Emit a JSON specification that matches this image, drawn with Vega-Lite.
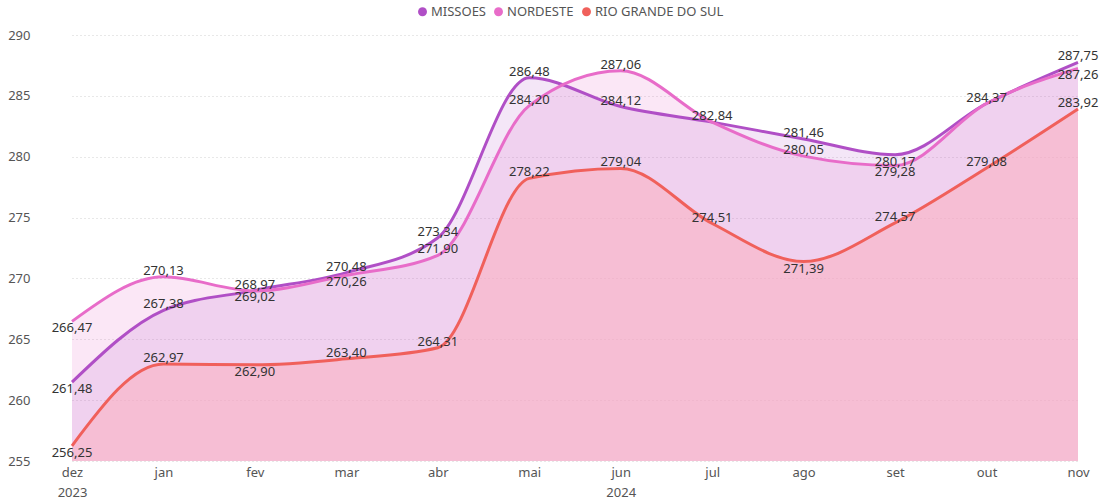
{
  "$schema": "https://vega.github.io/schema/vega-lite/v6.json",
  "width": 1064,
  "height": 426,
  "autosize": {"type": "none"},
  "padding": {"left": 36, "top": 35, "right": 2, "bottom": 40},
  "background": "white",
  "config": {
    "locale": {"number": {"decimal": ",", "thousands": ".", "grouping": [3], "currency": ["R$", ""]}},
    "view": {"stroke": null},
    "font": "Noto Sans"
  },
  "data": {"values": [
    {"month": "dez", "series": "MISSOES", "value": 261.48},
    {"month": "jan", "series": "MISSOES", "value": 267.38},
    {"month": "fev", "series": "MISSOES", "value": 269.02},
    {"month": "mar", "series": "MISSOES", "value": 270.48},
    {"month": "abr", "series": "MISSOES", "value": 273.34},
    {"month": "mai", "series": "MISSOES", "value": 286.48},
    {"month": "jun", "series": "MISSOES", "value": 284.12},
    {"month": "jul", "series": "MISSOES", "value": 282.84},
    {"month": "ago", "series": "MISSOES", "value": 281.46},
    {"month": "set", "series": "MISSOES", "value": 280.17},
    {"month": "out", "series": "MISSOES", "value": 284.37},
    {"month": "nov", "series": "MISSOES", "value": 287.75},
    {"month": "dez", "series": "NORDESTE", "value": 266.47},
    {"month": "jan", "series": "NORDESTE", "value": 270.13},
    {"month": "fev", "series": "NORDESTE", "value": 268.97},
    {"month": "mar", "series": "NORDESTE", "value": 270.26},
    {"month": "abr", "series": "NORDESTE", "value": 271.90},
    {"month": "mai", "series": "NORDESTE", "value": 284.20},
    {"month": "jun", "series": "NORDESTE", "value": 287.06},
    {"month": "jul", "series": "NORDESTE", "value": 282.84},
    {"month": "ago", "series": "NORDESTE", "value": 280.05},
    {"month": "set", "series": "NORDESTE", "value": 279.28},
    {"month": "out", "series": "NORDESTE", "value": 284.37},
    {"month": "nov", "series": "NORDESTE", "value": 287.26},
    {"month": "dez", "series": "RIO GRANDE DO SUL", "value": 256.25},
    {"month": "jan", "series": "RIO GRANDE DO SUL", "value": 262.97},
    {"month": "fev", "series": "RIO GRANDE DO SUL", "value": 262.90},
    {"month": "mar", "series": "RIO GRANDE DO SUL", "value": 263.40},
    {"month": "abr", "series": "RIO GRANDE DO SUL", "value": 264.31},
    {"month": "mai", "series": "RIO GRANDE DO SUL", "value": 278.22},
    {"month": "jun", "series": "RIO GRANDE DO SUL", "value": 279.04},
    {"month": "jul", "series": "RIO GRANDE DO SUL", "value": 274.51},
    {"month": "ago", "series": "RIO GRANDE DO SUL", "value": 271.39},
    {"month": "set", "series": "RIO GRANDE DO SUL", "value": 274.57},
    {"month": "out", "series": "RIO GRANDE DO SUL", "value": 279.08},
    {"month": "nov", "series": "RIO GRANDE DO SUL", "value": 283.92}
  ]},
  "encoding": {
    "x": {
      "field": "month", "type": "ordinal",
      "sort": ["dez", "jan", "fev", "mar", "abr", "mai", "jun", "jul", "ago", "set", "out", "nov"],
      "scale": {"type": "point", "range": [36, 1042], "padding": 0},
      "axis": {
        "title": null, "domain": false, "ticks": false, "grid": false,
        "labelAngle": 0, "labelFontSize": 13, "labelColor": "#555", "labelPadding": 5,
        "labelLineHeight": 20, "labelFont": "Noto Sans",
        "labelExpr": "datum.value == 'dez' ? ['dez', '2023'] : datum.value == 'jun' ? ['jun', '2024'] : datum.value"
      }
    },
    "y": {
      "field": "value", "type": "quantitative",
      "scale": {"domain": [255, 290], "nice": false, "zero": false},
      "axis": {
        "title": null, "domain": false, "ticks": false,
        "values": [255, 260, 265, 270, 275, 280, 285, 290],
        "labelFontSize": 13, "labelColor": "#555", "labelPadding": 6, "labelFont": "Noto Sans",
        "gridColor": "#d0d0d0", "gridDash": [1, 3], "gridWidth": 1
      }
    }
  },
  "layer": [
    {
      "transform": [{"filter": "datum.series == 'NORDESTE'"}],
      "mark": {"type": "area", "interpolate": "monotone", "fill": "#E86CC9", "opacity": 0.16},
      "encoding": {"y2": {"datum": 255}}
    },
    {
      "transform": [{"filter": "datum.series == 'MISSOES'"}],
      "mark": {"type": "area", "interpolate": "monotone", "fill": "#B04FC6", "opacity": 0.14},
      "encoding": {"y2": {"datum": 255}}
    },
    {
      "transform": [{"filter": "datum.series == 'RIO GRANDE DO SUL'"}],
      "mark": {"type": "area", "interpolate": "monotone", "fill": "#FAB2C4", "opacity": 0.62},
      "encoding": {"y2": {"datum": 255}}
    },
    {
      "mark": {"type": "line", "interpolate": "monotone", "strokeWidth": 3},
      "encoding": {
        "color": {
          "field": "series", "type": "nominal",
          "scale": {"domain": ["MISSOES", "NORDESTE", "RIO GRANDE DO SUL"], "range": ["#B04FC6", "#E86CC9", "#F0605B"]},
          "legend": {
            "title": null, "orient": "none", "direction": "horizontal",
            "legendX": 380, "legendY": -30,
            "symbolType": "circle", "symbolSize": 80, "symbolStrokeWidth": 0,
            "labelFontSize": 13, "labelColor": "#555", "labelFont": "Noto Sans",
            "columnPadding": 6, "labelOffset": 2,
            "encode": {"symbols": {"update": {"fill": {"scale": "color", "field": "value"}, "opacity": {"value": 1}}}}
          }
        }
      }
    },
    {
      "transform": [{"filter": "((datum.series == 'MISSOES' && indexof(['dez','fev','set'], datum.month) >= 0) || (datum.series == 'NORDESTE' && indexof(['dez','mar','set','nov'], datum.month) >= 0) || (datum.series == 'RIO GRANDE DO SUL' && indexof(['dez','fev','ago'], datum.month) >= 0))"}],
      "mark": {"type": "text", "fontSize": 13, "color": "#333", "dy": 7, "baseline": "middle", "font": "Noto Sans"},
      "encoding": {"text": {"field": "value", "type": "quantitative", "format": ".2f"}}
    },
    {
      "transform": [{"filter": "!((datum.series == 'MISSOES' && indexof(['dez','fev','set'], datum.month) >= 0) || (datum.series == 'NORDESTE' && indexof(['dez','mar','set','nov','jul','out'], datum.month) >= 0) || (datum.series == 'RIO GRANDE DO SUL' && indexof(['dez','fev','ago'], datum.month) >= 0))"}],
      "mark": {"type": "text", "fontSize": 13, "color": "#333", "dy": -6, "baseline": "middle", "font": "Noto Sans"},
      "encoding": {"text": {"field": "value", "type": "quantitative", "format": ".2f"}}
    }
  ]
}
